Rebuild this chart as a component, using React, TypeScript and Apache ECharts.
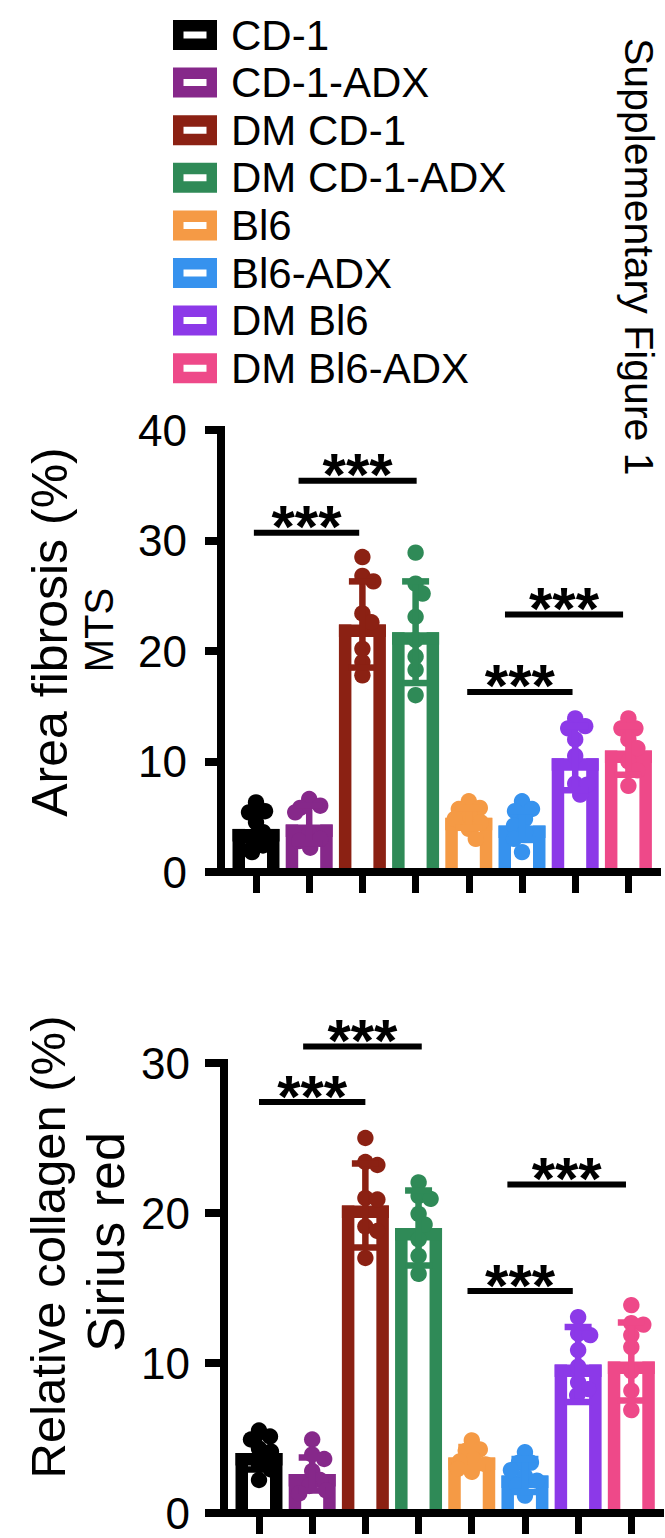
import React, { useEffect, useRef } from 'react';
import * as echarts from 'echarts';

const FONT = '"Liberation Sans", Arial, Helvetica, sans-serif';

const groups = ['CD-1', 'CD-1-ADX', 'DM CD-1', 'DM CD-1-ADX', 'Bl6', 'Bl6-ADX', 'DM Bl6', 'DM Bl6-ADX'];
const colors = ['#000000', '#86288a', '#8b2113', '#2f8a57', '#f59a45', '#3692ee', '#8c39e8', '#ee4989'];

// Chart 1: Area fibrosis (%) MTS
const mtsTitle = ['Area fibrosis (%)', 'MTS'];
const mtsTicks = [0, 10, 20, 30, 40];
const mtsMeans = [3.9, 4.3, 22.4, 21.7, 4.9, 4.2, 10.3, 11.0];
const mtsSD = [1.6, 1.7, 3.9, 4.6, 0.9, 1.3, 2.9, 2.2];
const mtsDots = [
  [6.3, 5.5, 5.4, 4.5, 3.6, 3.0, 2.4, 1.8],
  [6.6, 6.0, 5.8, 5.4, 3.5, 3.0, 2.8, 2.2],
  [28.5, 26.8, 26.3, 23.4, 22.6, 20.2, 19.0, 17.8],
  [28.9, 26.1, 25.2, 23.1, 21.0, 19.5, 18.3, 16.0],
  [6.4, 5.8, 5.7, 5.1, 4.8, 4.5, 3.9, 3.0],
  [6.4, 5.7, 5.5, 4.8, 4.2, 3.6, 3.0, 1.8],
  [13.9, 13.2, 13.0, 12.0, 10.5, 8.0, 7.9, 7.0],
  [13.9, 13.0, 13.0, 12.0, 11.2, 10.0, 9.2, 7.8],
];
// [from category, to category, y]
const mtsBrackets = [
  [-0.04, 1.94, 30.7],
  [0.8, 3.02, 35.4],
  [3.97, 5.95, 16.3],
  [4.68, 6.9, 23.3],
];

// Chart 2: Relative collagen (%) Sirius red
const srTitle = ['Relative collagen (%)', 'Sirius red'];
const srTicks = [0, 10, 20, 30];
const srMeans = [4.0, 2.6, 20.5, 19.0, 3.7, 2.5, 9.9, 10.1];
const srSD = [1.1, 1.1, 2.8, 2.5, 0.7, 1.1, 2.5, 2.6];
const srDots = [
  [5.5, 5.1, 4.9, 4.3, 4.1, 3.2, 2.9, 2.2],
  [4.9, 3.9, 3.6, 2.8, 2.2, 1.8, 1.5, 1.3],
  [25.0, 23.4, 23.2, 21.0, 20.9, 19.1, 18.8, 17.0],
  [22.1, 21.2, 21.0, 20.0, 19.3, 18.3, 17.2, 16.0],
  [4.9, 4.3, 4.2, 3.6, 3.5, 3.3, 3.0, 2.8],
  [4.1, 3.4, 3.4, 2.9, 2.5, 2.2, 1.9, 1.2],
  [13.1, 12.0, 11.9, 10.9, 9.8, 8.75, 8.3, 7.9],
  [13.9, 12.7, 12.6, 11.9, 11.1, 9.5, 8.2, 6.9],
];
const srBrackets = [
  [0.0, 2.0, 27.4],
  [0.83, 3.06, 31.1],
  [3.92, 5.9, 14.8],
  [4.67, 6.9, 21.9],
];

function beeswarm(ys: number[], minDist: number, maxOff: number): number[] {
  const order = ys.map((_, i) => i).sort((a, b) => ys[a] - ys[b]);
  const placed: { x: number; y: number }[] = [];
  const offs = new Array(ys.length).fill(0);
  for (const i of order) {
    let best = 0;
    for (let k = 0; k <= maxOff * 2; k++) {
      const cand = k === 0 ? 0 : k % 2 ? Math.ceil(k / 2) : -k / 2;
      best = cand;
      if (placed.every((p) => Math.hypot(p.x - cand, p.y - ys[i]) >= minDist)) break;
    }
    offs[i] = best;
    placed.push({ x: best, y: ys[i] });
  }
  return offs;
}

function groupRender(dots: number[], color: string) {
  return (params: any, api: any) => {
    const g = api.value(0);
    const mean = api.value(1);
    const sd = api.value(2);
    const base = api.coord([g, 0]);
    const top = api.coord([g, mean]);
    const bw = api.size([1, 0])[0];
    const W = bw * 0.883;
    const B = 12.5;
    const cx = base[0];
    const h = base[1] - top[1];
    const children: any[] = [
      { type: 'rect', shape: { x: cx - W / 2, y: top[1], width: B, height: h }, style: { fill: color } },
      { type: 'rect', shape: { x: cx + W / 2 - B, y: top[1], width: B, height: h }, style: { fill: color } },
      { type: 'rect', shape: { x: cx - W / 2, y: top[1], width: W, height: B }, style: { fill: color } },
    ];
    const ys = dots.map((v) => api.coord([g, v])[1]);
    const offs = beeswarm(ys, 12, 14);
    ys.forEach((y, k) => {
      children.push({ type: 'circle', shape: { cx: cx + offs[k], cy: y, r: 8.2 }, style: { fill: color } });
    });
    const hi = api.coord([g, mean + sd])[1];
    const lo = api.coord([g, mean - sd])[1];
    const capW = 27;
    children.push({ type: 'line', shape: { x1: cx, y1: hi, x2: cx, y2: lo }, style: { stroke: color, lineWidth: 6.5 } });
    children.push({ type: 'line', shape: { x1: cx - capW / 2, y1: hi, x2: cx + capW / 2, y2: hi }, style: { stroke: color, lineWidth: 6.5 } });
    children.push({ type: 'line', shape: { x1: cx - capW / 2, y1: lo, x2: cx + capW / 2, y2: lo }, style: { stroke: color, lineWidth: 6.5 } });
    return { type: 'group', children };
  };
}

function bracketRender(params: any, api: any) {
  const y = api.value(1);
  const x0 = api.value(2);
  const x1 = api.value(3);
  const c0 = api.coord([0, y]);
  const bw = api.size([1, 0])[0];
  const xa = c0[0] + x0 * bw;
  const xb = c0[0] + x1 * bw;
  return {
    type: 'group',
    children: [
      { type: 'line', shape: { x1: xa, y1: c0[1], x2: xb, y2: c0[1] }, style: { stroke: '#000', lineWidth: 6 } },
      {
        type: 'text',
        x: (xa + xb) / 2,
        y: c0[1] - 6,
        style: { text: '***', fill: '#000', font: 'bold 60px ' + FONT, align: 'center', verticalAlign: 'middle' },
      },
    ],
  };
}

function chartSeries(chart: number, means: number[], sds: number[], dots: number[][], brackets: number[][]) {
  const xIdx = chart * 2;
  const yIdx = chart * 2;
  const s: any[] = groups.map((name, i) => ({
    type: 'custom',
    name,
    xAxisIndex: xIdx,
    yAxisIndex: yIdx,
    itemStyle: { color: colors[i] },
    renderItem: groupRender(dots[i], colors[i]),
    encode: { x: 0, y: 1 },
    data: [[i, means[i], sds[i]]],
    clip: false,
    z: 3,
  }));
  s.push({
    type: 'custom',
    name: 'sig' + chart,
    xAxisIndex: xIdx,
    yAxisIndex: yIdx,
    renderItem: bracketRender,
    encode: { x: 0, y: 1 },
    data: brackets.map((b) => [0, b[2], b[0], b[1]]),
    clip: false,
    silent: true,
    z: 4,
  });
  return s;
}

function yAxisPair(grid: number, ticks: number[], tickLen: number) {
  const min = ticks[0];
  const max = ticks[ticks.length - 1];
  const interval = ticks[1] - ticks[0];
  return [
    { gridIndex: grid, type: 'value', min, max, interval, show: false },
    {
      gridIndex: grid + 1,
      type: 'value',
      min,
      max,
      interval,
      axisLine: { show: true, lineStyle: { color: '#000', width: 8, cap: 'square' } },
      axisTick: { show: true, length: tickLen, lineStyle: { color: '#000', width: 8 } },
      axisLabel: { show: true, color: '#000', fontSize: 44, fontFamily: FONT, margin: 34 },
      splitLine: { show: false },
    },
  ];
}

function xAxisPair(grid: number) {
  return [
    {
      gridIndex: grid,
      type: 'category',
      data: groups,
      axisLine: { show: false },
      axisTick: { show: true, alignWithLabel: true, interval: 0, length: 21, lineStyle: { color: '#000', width: 7 } },
      axisLabel: { show: false },
      splitLine: { show: false },
    },
    {
      gridIndex: grid + 1,
      type: 'value',
      min: 0,
      max: 1,
      axisLine: { show: true, onZero: false, lineStyle: { color: '#000', width: 8, cap: 'square' } },
      axisTick: { show: false },
      axisLabel: { show: false },
      splitLine: { show: false },
      z: 10,
    },
  ];
}

function vText(text: string, x: number, y: number, size: number, rotation: number) {
  return {
    type: 'text',
    x,
    y,
    rotation,
    style: {
      text,
      font: size + 'px ' + FONT,
      fill: '#000',
      align: rotation > 0 ? 'center' : 'left',
      verticalAlign: 'middle',
      textAlign: rotation > 0 ? 'center' : 'left',
      textVerticalAlign: 'middle',
    },
  };
}

export default function App() {
  const ref = useRef<HTMLDivElement>(null);
  useEffect(() => {
    if (!ref.current) return;
    const chart = echarts.init(ref.current, null, { renderer: 'svg' });
    const option: any = {
      animation: false,
      backgroundColor: '#ffffff',
      textStyle: { fontFamily: FONT },
      legend: {
        orient: 'vertical',
        left: 173,
        top: 14,
        padding: 0,
        itemGap: 5.6,
        itemWidth: 44,
        itemHeight: 30,
        selectedMode: false,
        icon: 'path://M0,0H44V30H0Z M10.5,11.5V18.5H33.5V11.5Z',
        textStyle: { fontSize: 42, color: '#000', fontFamily: FONT, lineHeight: 42, padding: [0, 0, 0, 9] },
        data: groups.map((n, i) => ({ name: n, itemStyle: { color: colors[i], borderWidth: 0 } })),
      },
      grid: [
        { left: 229.4, right: 10, top: 430, bottom: 666, containLabel: false, outerBoundsMode: 'none' },
        { left: 221, right: 8, top: 430, bottom: 666, containLabel: false, outerBoundsMode: 'none' },
        { left: 232.4, right: 7.1, top: 1063, bottom: 25, containLabel: false, outerBoundsMode: 'none' },
        { left: 224, right: 5, top: 1063, bottom: 25, containLabel: false, outerBoundsMode: 'none' },
      ],
      xAxis: [...xAxisPair(0), ...xAxisPair(2)],
      yAxis: [...yAxisPair(0, mtsTicks, 16), ...yAxisPair(2, srTicks, 19)],
      graphic: [
        vText('Supplementary Figure 1', 639, 38, 41, -Math.PI / 2),
        vText(mtsTitle[0], 50, 632, 50, Math.PI / 2),
        vText(mtsTitle[1], 99, 630, 40, Math.PI / 2),
        vText(srTitle[0], 48, 1247, 49, Math.PI / 2),
        vText(srTitle[1], 106, 1242, 52, Math.PI / 2),
      ],
      series: [
        ...chartSeries(0, mtsMeans, mtsSD, mtsDots, mtsBrackets),
        ...chartSeries(1, srMeans, srSD, srDots, srBrackets),
      ],
    };
    chart.setOption(option);
    return () => chart.dispose();
  }, []);
  return <div ref={ref} style={{ position: 'absolute', left: 0, top: 0, width: 665, height: 1538, background: '#fff' }} />;
}
